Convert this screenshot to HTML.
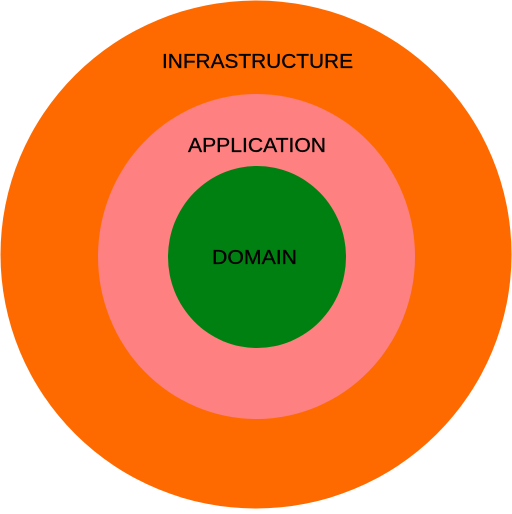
<!DOCTYPE html>
<html><head><style>html,body{margin:0;padding:0;background:#fff;}</style></head>
<body>
<svg width="512" height="509" xmlns="http://www.w3.org/2000/svg" font-family="Liberation Sans, sans-serif" font-size="20">
<ellipse cx="256" cy="254.5" rx="255.5" ry="254" fill="#FF6A00"/>
<ellipse cx="256.5" cy="256.5" rx="158.5" ry="162.5" fill="#FF8080"/>
<ellipse cx="257" cy="257" rx="89" ry="91" fill="#008010"/>
<g fill="#000" stroke="#000" stroke-width="0.3">
<text x="162" y="68" textLength="191" lengthAdjust="spacingAndGlyphs">INFRASTRUCTURE</text>
<text x="188" y="152" textLength="138" lengthAdjust="spacingAndGlyphs">APPLICATION</text>
<text x="212" y="264" textLength="85" lengthAdjust="spacingAndGlyphs">DOMAIN</text>
</g>
</svg>
</body></html>
